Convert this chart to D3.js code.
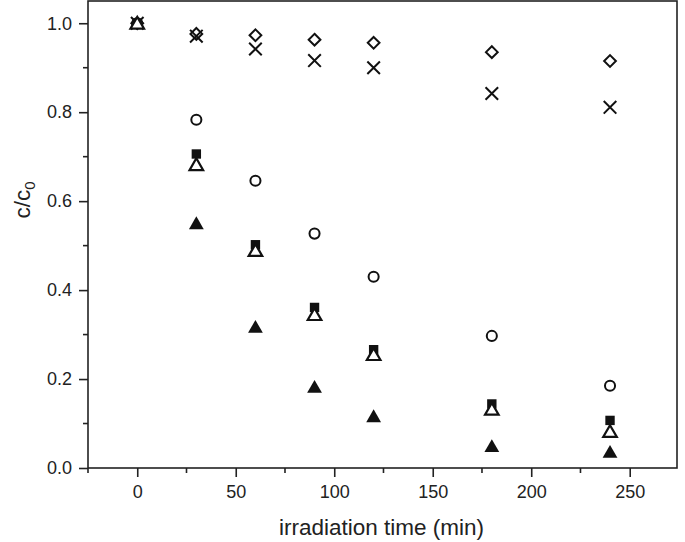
<!DOCTYPE html>
<html><head><meta charset="utf-8">
<script src="https://cdn.jsdelivr.net/npm/d3@7"></script>
<style>body{margin:0;background:#fff}svg{display:block}text{font-family:"Liberation Sans",Arial,sans-serif;fill:#222}</style>
</head><body>
<svg id="c" width="685" height="542"></svg>
<script>
const times = [0, 30, 60, 90, 120, 180, 240];
const diamondVals = [1.0, 0.976, 0.973, 0.963, 0.956, 0.935, 0.915];
const crossVals   = [1.0, 0.971, 0.942, 0.916, 0.900, 0.842, 0.811];
const circleVals  = [1.0, 0.783, 0.646, 0.527, 0.430, 0.297, 0.185];
const squareVals  = [1.0, 0.706, 0.502, 0.361, 0.266, 0.144, 0.107];
const openTriVals = [1.0, 0.682, 0.489, 0.345, 0.255, 0.132, 0.082];
const fillTriVals = [1.0, 0.550, 0.317, 0.182, 0.116, 0.049, 0.036];
const xTicks = [0, 50, 100, 150, 200, 250];
const yTicks = [0.0, 0.2, 0.4, 0.6, 0.8, 1.0];

const series = [
  {name:"diamond", vals: diamondVals},
  {name:"cross", vals: crossVals},
  {name:"circle", vals: circleVals},
  {name:"fillTri", vals: fillTriVals},
  {name:"square", vals: squareVals},
  {name:"openTri", vals: openTriVals}
];

const svg = d3.select("#c");
const L = 88, R = 677, T = 1, B = 468;
const x = d3.scaleLinear().domain([-25, 274]).range([L, R]);
const y = d3.scaleLinear().domain([0, 1.05]).range([B, T]);
const ink = "#222";

// frame
svg.append("rect").attr("x", L).attr("y", T).attr("width", R - L).attr("height", B - T)
  .attr("fill", "none").attr("stroke", ink).attr("stroke-width", 1.6);

// x axis
const xMinor = d3.range(-25, 275, 25).filter(v => v % 50 !== 0);
const xAx = svg.append("g").attr("transform", `translate(0,${B})`);
xAx.call(d3.axisBottom(x).tickValues(xTicks).tickSize(9).tickPadding(8).tickFormat(d3.format("d")));
xAx.select(".domain").remove();
xAx.selectAll(".tick line").attr("stroke", ink).attr("stroke-width", 1.6);
xAx.selectAll(".tick text").attr("font-size", 18).attr("font-family", "Liberation Sans, Arial, sans-serif").attr("fill", ink);
xAx.selectAll(".minor").data(xMinor).enter().append("line").attr("class","minor")
  .attr("x1", d => x(d)).attr("x2", d => x(d)).attr("y1", 0).attr("y2", 5)
  .attr("stroke", ink).attr("stroke-width", 1.6);

// y axis
const yMinor = [0.1, 0.3, 0.5, 0.7, 0.9];
const yAx = svg.append("g").attr("transform", `translate(${L},0)`);
yAx.call(d3.axisLeft(y).tickValues(yTicks).tickSize(9).tickPadding(7).tickFormat(d3.format(".1f")));
yAx.select(".domain").remove();
yAx.selectAll(".tick line").attr("stroke", ink).attr("stroke-width", 1.6);
yAx.selectAll(".tick text").attr("font-size", 18).attr("font-family", "Liberation Sans, Arial, sans-serif").attr("fill", ink);
yAx.selectAll(".minor").data(yMinor).enter().append("line").attr("class","minor")
  .attr("y1", d => y(d)).attr("y2", d => y(d)).attr("x1", 0).attr("x2", -5)
  .attr("stroke", ink).attr("stroke-width", 1.6);

// labels
svg.append("text").attr("x", (L + R) / 2 - 1).attr("y", 535).attr("text-anchor", "middle")
  .attr("font-size", 22.5).text("irradiation time (min)");
const yl = svg.append("text").attr("transform", "translate(30,200) rotate(-90)")
  .attr("text-anchor", "middle").attr("font-size", 22.5);
yl.append("tspan").text("c/c");
yl.append("tspan").attr("font-size", 15).attr("dy", 5).text("0");

// markers
const g = svg.append("g");
const sym = {
  diamond: d3.symbol().type(d3.symbolDiamond2).size(88),
  cross: d3.symbol().type(d3.symbolTimes).size(105),
  circle: d3.symbol().type(d3.symbolCircle).size(80),
  square: d3.symbol().type(d3.symbolSquare).size(88),
  openTri: d3.symbol().type(d3.symbolTriangle).size(80),
  fillTri: d3.symbol().type(d3.symbolTriangle).size(95)
};
const style = {
  diamond: {fill:"none", stroke:"#111", sw:2},
  cross: {fill:"none", stroke:"#111", sw:2},
  circle: {fill:"none", stroke:"#111", sw:2},
  square: {fill:"#111", stroke:"none", sw:0},
  openTri: {fill:"#fff", stroke:"#111", sw:2.2},
  fillTri: {fill:"#111", stroke:"none", sw:0}
};
series.forEach(s => {
  g.selectAll(null).data(s.vals.map((v, i) => ({t: times[i], v}))).enter().append("path")
    .attr("d", sym[s.name]())
    .attr("transform", d => `translate(${x(d.t)},${y(d.v) + (s.name.includes("Tri") ? 1.5 : 0)})`)
    .attr("fill", style[s.name].fill).attr("stroke", style[s.name].stroke)
    .attr("stroke-width", style[s.name].sw);
});
</script>
</body></html>
